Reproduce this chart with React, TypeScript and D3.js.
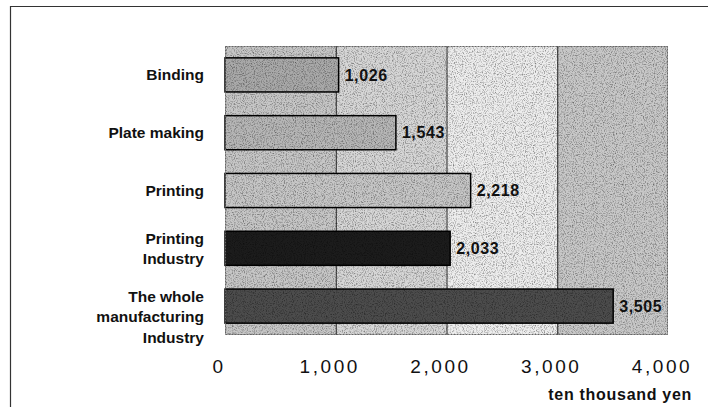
import React, { useEffect, useRef } from 'react';
import * as d3 from 'd3';

// Chart data
const CATEGORIES = ['Binding', 'Plate making', 'Printing', 'Printing\nIndustry', 'The whole\nmanufacturing\nIndustry'];
const VALUES = [1026, 1543, 2218, 2033, 3505];
const X_TICKS = [0, 1000, 2000, 3000, 4000];
const UNIT_LABEL = 'ten thousand yen';

// Grey shades for the bars and the background columns
const BAR_FILLS = ['#a9a9a9', '#b6b6b6', '#c6c6c6', '#1c1c1c', '#4c4c4c'];
const COLUMN_FILLS = ['#c6c6c6', '#d6d6d6', '#ededed', '#c8c8c8'];

const W = 708;
const H = 407;

const App: React.FC = () => {
  const svgRef = useRef<SVGSVGElement>(null);

  useEffect(() => {
    if (!svgRef.current) return;
    const svg = d3.select(svgRef.current);
    svg.selectAll('*').remove();

    const plot = { left: 225, right: 668, top: 46, bottom: 335 };
    const font = "'Liberation Sans', Arial, Helvetica, sans-serif";

    const x = d3.scaleLinear().domain([0, 4000]).range([plot.left, plot.right]);
    const y = d3.scaleBand<string>()
      .domain(CATEGORIES)
      .range([plot.top, plot.bottom])
      .paddingInner(0.41)
      .paddingOuter(0.205);

    // Speckle texture filter to mimic the scanned halftone look
    const defs = svg.append('defs');
    const f = defs.append('filter').attr('id', 'speckle').attr('x', 0).attr('y', 0).attr('width', 1).attr('height', 1);
    f.append('feTurbulence')
      .attr('type', 'fractalNoise')
      .attr('baseFrequency', 0.9)
      .attr('numOctaves', 2)
      .attr('seed', 3)
      .attr('result', 'noise');
    f.append('feColorMatrix')
      .attr('in', 'noise')
      .attr('type', 'matrix')
      .attr('values', '0 0 0 0 0  0 0 0 0 0  0 0 0 0 0  -2.4 0 0 0 1.3');

    // Outer frame (top and left edges)
    svg.append('path')
      .attr('d', `M10.5,${H} L10.5,6.5 L${W},6.5`)
      .attr('fill', 'none')
      .attr('stroke', '#333')
      .attr('stroke-width', 1.2);

    // Background columns between ticks
    svg.append('g')
      .selectAll('rect')
      .data(d3.pairs(X_TICKS))
      .join('rect')
      .attr('x', d => x(d[0]))
      .attr('y', plot.top)
      .attr('width', d => x(d[1]) - x(d[0]))
      .attr('height', plot.bottom - plot.top)
      .attr('fill', (d, i) => COLUMN_FILLS[i % COLUMN_FILLS.length]);

    // Gridlines
    svg.append('g')
      .selectAll('line')
      .data(X_TICKS.slice(1, -1))
      .join('line')
      .attr('x1', d => x(d) + 0.5)
      .attr('x2', d => x(d) + 0.5)
      .attr('y1', plot.top)
      .attr('y2', plot.bottom)
      .attr('stroke', '#222')
      .attr('stroke-width', 1);

    // Bars
    svg.append('g')
      .selectAll('rect')
      .data(CATEGORIES)
      .join('rect')
      .attr('x', x(0))
      .attr('y', d => y(d)!)
      .attr('width', (d, i) => x(VALUES[i]) - x(0))
      .attr('height', y.bandwidth())
      .attr('fill', (d, i) => BAR_FILLS[i])
      .attr('stroke', '#000')
      .attr('stroke-width', 1.5);

    // Speckle overlay over the whole plot area
    svg.append('rect')
      .attr('x', plot.left)
      .attr('y', plot.top)
      .attr('width', plot.right - plot.left)
      .attr('height', plot.bottom - plot.top)
      .attr('fill', '#fff')
      .attr('filter', 'url(#speckle)')
      .attr('opacity', 0.45);

    // Plot border
    svg.append('rect')
      .attr('x', plot.left + 0.5)
      .attr('y', plot.top + 0.5)
      .attr('width', plot.right - plot.left - 1)
      .attr('height', plot.bottom - plot.top - 1)
      .attr('fill', 'none')
      .attr('stroke', '#666')
      .attr('stroke-width', 1)
      .attr('stroke-dasharray', '2,1');

    // Value labels
    svg.append('g')
      .selectAll('text')
      .data(CATEGORIES)
      .join('text')
      .attr('x', (d, i) => x(VALUES[i]) + 6)
      .attr('y', d => y(d)! + y.bandwidth() / 2)
      .attr('dy', '0.36em')
      .attr('font-family', font)
      .attr('font-weight', 'bold')
      .attr('font-size', 16)
      .attr('letter-spacing', 0.6)
      .attr('fill', '#111')
      .text((d, i) => d3.format(',')(VALUES[i]));

    // Category labels (multi-line)
    const catG = svg.append('g');
    CATEGORIES.forEach(cat => {
      const lines = cat.split('\n');
      const cy = y(cat)! + y.bandwidth() / 2;
      const start = lines.length > 1 ? cy - 10 : cy;
      const t = catG.append('text')
        .attr('text-anchor', 'end')
        .attr('font-family', font)
        .attr('font-weight', 'bold')
        .attr('font-size', 15.5)
        .attr('fill', '#111');
      lines.forEach((ln, i) => {
        t.append('tspan')
          .attr('x', 204)
          .attr('y', start + i * 20.5)
          .attr('dy', '0.36em')
          .text(ln);
      });
    });

    // X tick labels
    svg.append('g')
      .selectAll('text')
      .data(X_TICKS)
      .join('text')
      .attr('x', d => x(d) - 6)
      .attr('y', 373)
      .attr('text-anchor', 'middle')
      .attr('font-family', font)
      .attr('font-size', 19)
      .attr('letter-spacing', 2.6)
      .attr('fill', '#111')
      .text(d => d3.format(',')(d));

    // Unit label
    svg.append('text')
      .attr('x', 692)
      .attr('y', 400)
      .attr('text-anchor', 'end')
      .attr('font-family', font)
      .attr('font-weight', 'bold')
      .attr('font-size', 16)
      .attr('letter-spacing', 0.7)
      .attr('fill', '#111')
      .text(UNIT_LABEL);
  }, []);

  return (
    <svg
      ref={svgRef}
      width={W}
      height={H}
      style={{ position: 'fixed', left: 0, top: 0, background: '#fff' }}
    />
  );
};

export default App;
